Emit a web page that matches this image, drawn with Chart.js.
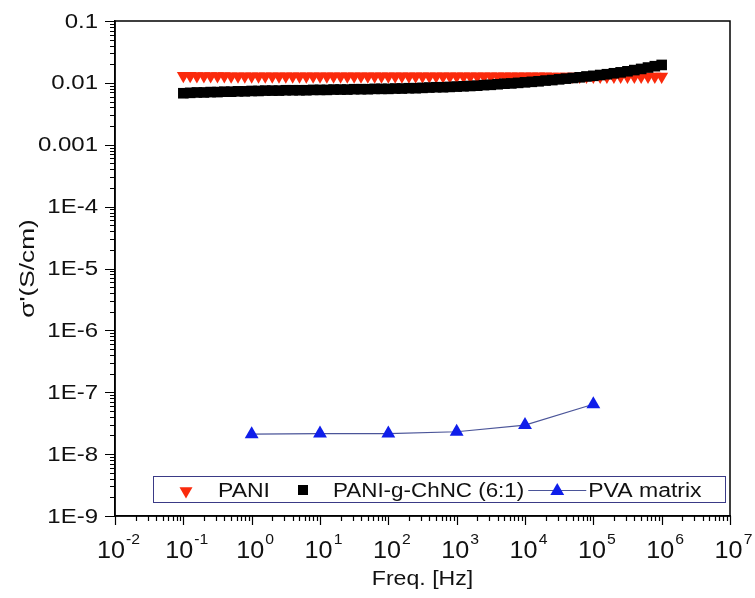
<!DOCTYPE html>
<html>
<head>
<meta charset="utf-8">
<script src="https://cdn.jsdelivr.net/npm/chart.js@4/dist/chart.umd.min.js"></script>
<style>
  html, body { margin: 0; padding: 0; background: #fff; }
  #chart { display: block; }
</style>
</head>
<body>
<canvas id="chart" width="755" height="598"></canvas>
<script>
// frequencies (Hz) for the two PANI samples
const freq = [
  0.1, 0.126, 0.158, 0.2, 0.251, 0.316, 0.398, 0.501, 0.631, 0.794,
  1, 1.26, 1.58, 2, 2.51, 3.16, 3.98, 5.01, 6.31, 7.94,
  10, 12.6, 15.8, 20, 25.1, 31.6, 39.8, 50.1, 63.1, 79.4,
  100, 126, 158, 200, 251, 316, 398, 501, 631, 794,
  1000, 1260, 1580, 2000, 2510, 3160, 3980, 5010, 6310, 7940,
  10000, 12600, 15800, 20000, 25100, 31600, 39800, 50100, 63100, 79400,
  100000, 126000, 158000, 200000, 251000, 316000, 398000, 501000, 631000, 794000,
  1000000
];

const pani = [
  0.0130, 0.0130, 0.0129, 0.0129, 0.0129, 0.0129, 0.0129, 0.0128, 0.0128, 0.0128,
  0.0128, 0.0128, 0.0128, 0.0128, 0.0128, 0.0128, 0.0128, 0.0128, 0.0128, 0.0128,
  0.0128, 0.0128, 0.0128, 0.0128, 0.0128, 0.0128, 0.0128, 0.0128, 0.0128, 0.0128,
  0.0128, 0.0128, 0.0128, 0.0128, 0.0128, 0.0128, 0.0128, 0.0128, 0.0128, 0.0128,
  0.0128, 0.0128, 0.0128, 0.0128, 0.0128, 0.0128, 0.0128, 0.0128, 0.0128, 0.0128,
  0.0128, 0.0128, 0.0128, 0.0128, 0.0127, 0.0127, 0.0127, 0.0127, 0.0127, 0.0127,
  0.0127, 0.0127, 0.0127, 0.0127, 0.0127, 0.0127, 0.0127, 0.0127, 0.0127, 0.0127,
  0.0127
];

const paniChnc = [
  0.0068, 0.0069, 0.0070, 0.0070, 0.0071, 0.0071, 0.0072, 0.0072, 0.0073, 0.0073,
  0.0074, 0.0074, 0.0075, 0.0075, 0.0075, 0.0076, 0.0076, 0.0076, 0.0076, 0.0077,
  0.0077, 0.0077, 0.0078, 0.0078, 0.0078, 0.0079, 0.0079, 0.0079, 0.0080, 0.0080,
  0.0080, 0.0081, 0.0081, 0.0082, 0.0082, 0.0083, 0.0084, 0.0085, 0.0085, 0.0086,
  0.0087, 0.0088, 0.0089, 0.0090, 0.0092, 0.0093, 0.0095, 0.0097, 0.0098, 0.0100,
  0.0102, 0.0104, 0.0106, 0.0109, 0.0111, 0.0114, 0.0117, 0.0120, 0.0123, 0.0127,
  0.0130, 0.0134, 0.0138, 0.0143, 0.0148, 0.0154, 0.0161, 0.0168, 0.0177, 0.0186,
  0.0195
];

const pvaFreq = [1, 10, 100, 1000, 10000, 100000];
const pva = [2.1e-8, 2.15e-8, 2.15e-8, 2.3e-8, 2.95e-8, 6.4e-8];

const seriesLabels = ['PANI', 'PANI-g-ChNC (6:1)', 'PVA matrix'];

// axis ticks
const xTickExps = [-2, -1, 0, 1, 2, 3, 4, 5, 6, 7];
const yTickValues = [1e-9, 1e-8, 1e-7, 1e-6, 1e-5, 1e-4, 0.001, 0.01, 0.1];
const yTickLabels = ['1E-9', '1E-8', '1E-7', '1E-6', '1E-5', '1E-4', '0.001', '0.01', '0.1'];
const xTitle = 'Freq. [Hz]';
const yTitle = "σ'(S/cm)";

const FONT = '"Liberation Sans", Arial, sans-serif';
const RED = '#fa2a0c';
const BLUE = '#0f1eea';
const LINE = '#4b5599';
const TXT = '#111';

function toXY(xs, ys) {
  return xs.map((x, i) => ({ x: x, y: ys[i] }));
}

function triangle(ctx, x, y, r, down) {
  const s = down ? -1 : 1;
  ctx.beginPath();
  ctx.moveTo(x, y - s * r);
  ctx.lineTo(x + r * 0.866, y + s * r * 0.5);
  ctx.lineTo(x - r * 0.866, y + s * r * 0.5);
  ctx.closePath();
  ctx.fill();
}

// the original figure's lettering is a bit wide, so text gets a horizontal stretch
function wideText(ctx, text, x, y, size, align, sx, rot) {
  ctx.save();
  ctx.translate(x, y);
  if (rot) ctx.rotate(rot);
  ctx.scale(sx, 1);
  ctx.font = size + 'px ' + FONT;
  ctx.textAlign = align;
  ctx.fillText(text, 0, 0);
  const w = ctx.measureText(text).width * sx;
  ctx.restore();
  return w;
}

const decorPlugin = {
  id: 'decor',
  afterDraw(chart) {
    const ctx = chart.ctx;
    const area = chart.chartArea;
    const xs = chart.scales.x;
    const ys = chart.scales.y;
    ctx.save();
    ctx.strokeStyle = '#000';
    ctx.lineWidth = 1.5;
    ctx.strokeRect(area.left, area.top, area.right - area.left, area.bottom - area.top);

    // log ticks, pointing outwards
    ctx.lineWidth = 1.2;
    ctx.beginPath();
    xTickExps.forEach(e => {
      const base = Math.pow(10, e);
      const px = Math.round(xs.getPixelForValue(base)) + 0.5;
      ctx.moveTo(px, area.bottom);
      ctx.lineTo(px, area.bottom + 9);
      if (e < 7) {
        for (let k = 2; k <= 9; k++) {
          const mx = Math.round(xs.getPixelForValue(base * k)) + 0.5;
          ctx.moveTo(mx, area.bottom);
          ctx.lineTo(mx, area.bottom + 5);
        }
      }
    });
    yTickValues.forEach((v, i) => {
      const py = Math.round(ys.getPixelForValue(v)) + 0.5;
      ctx.moveTo(area.left, py);
      ctx.lineTo(area.left - 10, py);
      if (i < yTickValues.length - 1) {
        for (let k = 2; k <= 9; k++) {
          const my = Math.round(ys.getPixelForValue(v * k)) + 0.5;
          ctx.moveTo(area.left, my);
          ctx.lineTo(area.left - 5, my);
        }
      }
    });
    ctx.stroke();

    ctx.fillStyle = TXT;
    ctx.textBaseline = 'middle';
    yTickValues.forEach((v, i) => {
      wideText(ctx, yTickLabels[i], 98, ys.getPixelForValue(v) + 1, 20, 'right', 1.2);
    });

    // x tick labels 10^n
    ctx.textBaseline = 'alphabetic';
    xTickExps.forEach(e => {
      const px = xs.getPixelForValue(Math.pow(10, e));
      const sup = String(e);
      ctx.font = '24px ' + FONT;
      const wBase = ctx.measureText('10').width * 1.05;
      ctx.font = '15px ' + FONT;
      const wSup = ctx.measureText(sup).width * 1.05;
      const x0 = px - (wBase + wSup) / 2 + 3;
      wideText(ctx, '10', x0, 558, 24, 'left', 1.05);
      wideText(ctx, sup, x0 + wBase + 1, 544, 15, 'left', 1.05);
    });

    // axis titles
    wideText(ctx, xTitle, (area.left + area.right) / 2, 585, 21, 'center', 1.1);
    wideText(ctx, yTitle, 34, (area.top + area.bottom) / 2, 21, 'center', 1.25, -Math.PI / 2);

    // legend
    ctx.strokeStyle = '#3a3a86';
    ctx.lineWidth = 1;
    ctx.strokeRect(153.5, 476.5, 572, 26);
    const ly = 490;
    ctx.textBaseline = 'middle';
    ctx.fillStyle = RED;
    triangle(ctx, 186, ly + 1, 7.5, true);
    ctx.fillStyle = TXT;
    wideText(ctx, seriesLabels[0], 218, ly + 1, 20, 'left', 1.15);
    ctx.fillStyle = '#000';
    ctx.fillRect(298, ly - 5, 10, 10);
    ctx.fillStyle = TXT;
    const w1 = wideText(ctx, seriesLabels[1], 333, ly + 1, 20, 'left', 1.12);
    const l0 = 333 + w1 + 4;
    ctx.strokeStyle = LINE;
    ctx.lineWidth = 1.2;
    ctx.beginPath();
    ctx.moveTo(l0, ly + 0.5);
    ctx.lineTo(l0 + 58, ly + 0.5);
    ctx.stroke();
    ctx.fillStyle = BLUE;
    triangle(ctx, l0 + 29, ly + 1, 8, false);
    ctx.fillStyle = TXT;
    wideText(ctx, seriesLabels[2], l0 + 60, ly + 1, 20, 'left', 1.15);
    ctx.restore();
  }
};

new Chart(document.getElementById('chart'), {
  type: 'scatter',
  data: {
    datasets: [
      {
        label: seriesLabels[0],
        data: toXY(freq, pani),
        pointStyle: 'triangle',
        rotation: 180,
        pointRadius: 7.5,
        backgroundColor: RED,
        borderColor: RED,
        borderWidth: 0,
        showLine: false,
        order: 3
      },
      {
        label: seriesLabels[1],
        data: toXY(freq, paniChnc),
        pointStyle: 'rect',
        pointRadius: 7.5,
        backgroundColor: '#000',
        borderColor: '#000',
        borderWidth: 0,
        showLine: false,
        order: 2
      },
      {
        label: seriesLabels[2],
        data: toXY(pvaFreq, pva),
        pointStyle: 'triangle',
        pointRadius: 8,
        pointBackgroundColor: BLUE,
        pointBorderColor: BLUE,
        pointBorderWidth: 0,
        borderColor: LINE,
        borderWidth: 1.2,
        showLine: true,
        order: 1
      }
    ]
  },
  options: {
    responsive: false,
    animation: false,
    layout: { padding: { top: 21, right: 25, bottom: 0, left: 0 } },
    plugins: {
      legend: { display: false },
      tooltip: { enabled: false }
    },
    scales: {
      x: {
        type: 'logarithmic',
        min: 0.01,
        max: 1e7,
        grid: { display: false, drawTicks: false },
        border: { display: true, color: '#000', width: 1.5 },
        ticks: { display: false },
        afterFit(scale) { scale.height = 82; }
      },
      y: {
        type: 'logarithmic',
        min: 1e-9,
        max: 0.1,
        grid: { display: false, drawTicks: false },
        border: { display: true, color: '#000', width: 1.5 },
        ticks: { display: false },
        afterFit(scale) { scale.width = 115; }
      }
    }
  },
  plugins: [decorPlugin]
});
</script>
</body>
</html>
